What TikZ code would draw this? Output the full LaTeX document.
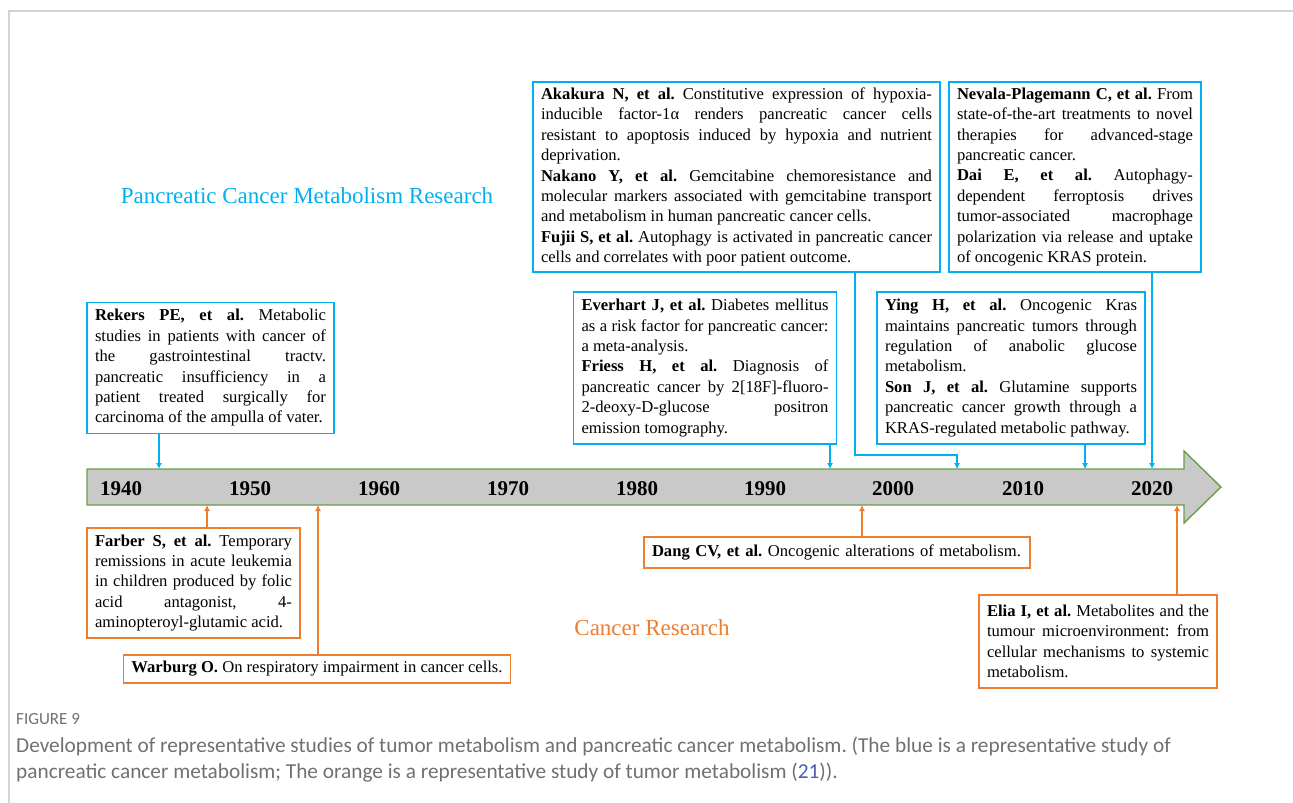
\documentclass[tikz,border=0pt]{standalone}
\usepackage{fontspec}
\setmainfont{Liberation Serif}
\newfontfamily\capfont{Carlito}
\usetikzlibrary{arrows.meta}

\definecolor{refBlue}{HTML}{00B0F0}
\definecolor{refOrange}{HTML}{ED7D31}
\definecolor{barGreen}{HTML}{6A9E46}
\definecolor{barGray}{HTML}{C9C9C9}
\definecolor{capGray}{HTML}{707070}
\definecolor{frameGray}{HTML}{D4D4D4}
\definecolor{refLink}{HTML}{4A5BB5}

\newcommand{\reffont}{\fontsize{16.6}{20.4}\selectfont\frenchspacing\hyphenpenalty=10000\exhyphenpenalty=10000}

\begin{document}
\begin{tikzpicture}
[x=1pt,y=-1pt,
  blueBox/.style={draw=refBlue,line width=1.8pt,fill=white,inner xsep=8pt,inner ysep=2pt,align=justify,font=\reffont},%
  orangeBox/.style={blueBox,draw=refOrange},%
  blueLink/.style={draw=refBlue,line width=1.6pt,-{Latex[length=6pt,width=6pt]}},%
  orangeLink/.style={draw=refOrange,line width=1.6pt,-{Latex[length=6pt,width=6pt]}},%
  yearLabel/.style={font=\fontsize{21}{24}\selectfont\bfseries},%
  bigTitle/.style={font=\fontsize{23}{28}\selectfont},%
  capText/.style={anchor=west,inner sep=0pt,text=capGray,font=\capfont\fontsize{21.3}{26}\selectfont\frenchspacing}]
\useasboundingbox (0,0) rectangle (1293,803);
\draw[frameGray,line width=1.5pt] (9,803) -- (9,11) -- (1293,11);

%% timeline bar
\draw[barGreen,fill=barGray,line width=1.4pt] (87,469) -- (1184,469) -- (1184,451) -- (1221,487)
  -- (1184,523) -- (1184,505) -- (87,505) -- cycle;
\foreach \yr/\x in {1940/121, 1950/250, 1960/379, 1970/508, 1980/637,
  1990/765, 2000/893, 2010/1023, 2020/1152}
{
  \node (y\yr) at (\x,489) [yearLabel] {\yr};
}

%% titles
\node (pcmTitle) at (307,196) [bigTitle,text=refBlue] {Pancreatic Cancer Metabolism Research};
\node (crTitle) at (652,628) [bigTitle,text=refOrange] {Cancer Research};

%% blue boxes
\node (rekers) at (210.5,368) [blueBox,text width=231pt,minimum height=131pt]
  {\textbf{Rekers PE, et al.} Metabolic\linebreak studies in patients with cancer of\linebreak
  the gastrointestinal tractv.\linebreak pancreatic insufficiency in a\linebreak
  patient treated surgically for\linebreak carcinoma of the ampulla of vater.};
\node (akakura) at (736.5,177) [blueBox,text width=391pt,minimum height=190pt]
  {\textbf{Akakura N, et al.} Constitutive expression of hypoxia-\linebreak
  inducible factor-1α renders pancreatic cancer cells\linebreak
  resistant to apoptosis induced by hypoxia and nutrient\linebreak deprivation.\par
  \textbf{Nakano Y, et al.} Gemcitabine chemoresistance and\linebreak
  molecular markers associated with gemcitabine transport\linebreak
  and metabolism in human pancreatic cancer cells.\par
  \textbf{Fujii S, et al.} Autophagy is activated in pancreatic cancer\linebreak
  cells and correlates with poor patient outcome.};
\node (nevala) at (1075,177) [blueBox,text width=236pt,minimum height=190pt]
  {\textbf{Nevala-Plagemann C, et al.} From\linebreak state-of-the-art treatments to novel\linebreak
  therapies for advanced-stage\linebreak pancreatic cancer.\par
  \textbf{Dai E, et al.} Autophagy-\linebreak dependent ferroptosis drives\linebreak
  tumor-associated macrophage\linebreak polarization via release and uptake\linebreak
  of oncogenic KRAS protein.};
\node (everhart) at (705,368) [blueBox,text width=247pt,minimum height=152pt]
  {\textbf{Everhart J, et al.} Diabetes mellitus\linebreak as a risk factor for pancreatic cancer:\linebreak
  a meta-analysis.\par
  \textbf{Friess H, et al.} Diagnosis of\linebreak pancreatic cancer by 2[18F]-fluoro-\linebreak
  2-deoxy-D-glucose positron\linebreak emission tomography.};
\node (ying) at (1011,368) [blueBox,text width=252pt,minimum height=152pt]
  {\textbf{Ying H, et al.} Oncogenic Kras\linebreak maintains pancreatic tumors through\linebreak
  regulation of anabolic glucose\linebreak metabolism.\par
  \textbf{Son J, et al.} Glutamine supports\linebreak pancreatic cancer growth through a\linebreak
  KRAS-regulated metabolic pathway.};

%% orange boxes
\node (farber) at (193.5,583) [orangeBox,text width=197pt,minimum height=110pt]
  {\textbf{Farber S, et al.} Temporary\linebreak remissions in acute leukemia\linebreak
  in children produced by folic\linebreak acid antagonist, 4-\linebreak
  aminopteroyl-glutamic acid.};
\node (warburg) at (317,669) [orangeBox,align=left,minimum height=28pt]
  {\textbf{Warburg O.} On respiratory impairment in cancer cells.};
\node (dang) at (837,552.5) [orangeBox,align=left,text width=370pt,minimum height=31pt]
  {\textbf{Dang CV, et al.} Oncogenic alterations of metabolism.};
\node (elia) at (1098,641.5) [orangeBox,text width=222pt,minimum height=93pt]
  {\textbf{Elia I, et al.} Metabolites and the\linebreak tumour microenvironment: from\linebreak
  cellular mechanisms to systemic\linebreak metabolism.};

%% connectors
\foreach \boxname/\x in {rekers/159, everhart/830, ying/1085, nevala/1152}
{
  \coordinate (t\boxname) at (\x,469);
  \draw[blueLink] (\boxname.south -| t\boxname) -- (t\boxname);
}
\coordinate (akBend) at (855,455);
\coordinate (takakura) at (957,469);
\draw[blueLink] (akakura.south -| akBend) -- (akBend) -| (takakura);
\foreach \boxname/\x in {farber/207, warburg/318, dang/862, elia/1177}
{
  \coordinate (b\boxname) at (\x,505);
  \draw[orangeLink] (\boxname.north -| b\boxname) -- (b\boxname);
}

%% caption
\node (figNo) at (16,719) [capText,font=\capfont\fontsize{17}{20}\selectfont] {FIGURE 9};
\node (capA) at (16,746) [capText] {Development of representative studies of tumor metabolism and pancreatic cancer metabolism. (The blue is a representative study of};
\node (capB) at (16,773) [capText] {pancreatic cancer metabolism; The orange is a representative study of tumor metabolism (\textcolor{refLink}{21})).};
\end{tikzpicture}
\end{document}
